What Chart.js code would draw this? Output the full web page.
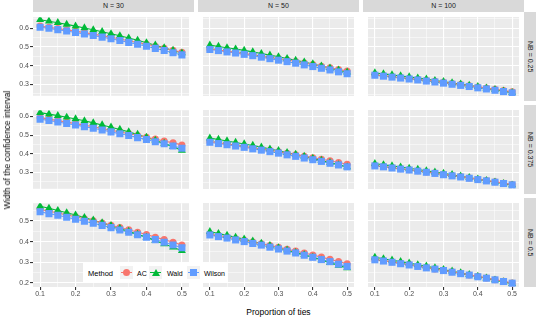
<!DOCTYPE html>
<html>
<head>
<meta charset="utf-8">
<script src="https://cdn.jsdelivr.net/npm/chart.js@4.4.0/dist/chart.umd.min.js"></script>
<style>
    body { margin: 0; background: #fff; font-family: "Liberation Sans", Arial, sans-serif; }
    #wrap { position: relative; width: 538px; height: 317px; overflow: hidden; background: #fff; }
    #wrap canvas { position: absolute; }
    .strip { position: absolute; background: #d9d9d9; color: #1a1a1a; font-size: 7px;
             display: flex; align-items: center; justify-content: center; white-space: nowrap; }
    .strip.side span { writing-mode: vertical-rl; }
    .title { position: absolute; color: #000; font-size: 8.5px; white-space: nowrap; }
    .leg { position: absolute; font-size: 7px; color: #000; white-space: nowrap; }
</style>
</head>
<body>
<div id="wrap"></div>
<script>
// ---- data ----
const ties = [0.1, 0.125, 0.15, 0.175, 0.2, 0.225, 0.25, 0.275, 0.3, 0.325, 0.35, 0.375, 0.4, 0.425, 0.45, 0.475, 0.5];
const nLabels  = ['N = 30', 'N = 50', 'N = 100'];
const nbLabels = ['NB = 0.25', 'NB = 0.375', 'NB = 0.5'];
const methods  = ['AC', 'Wald', 'Wilson'];
const xTickLabels    = [0.1, 0.2, 0.3, 0.4, 0.5];
const yTickLabelsTop = [0.3, 0.4, 0.5, 0.6];
const yTickLabelsLow = [0.2, 0.3, 0.4, 0.5];

// NB = 0.25
const ac_nb025_n30     = [.612,.606,.599,.592,.585,.577,.569,.561,.552,.543,.534,.524,.515,.504,.494,.483,.472];
const wald_nb025_n30   = [.646,.638,.630,.621,.612,.602,.592,.582,.571,.560,.548,.536,.523,.510,.496,.482,.468];
const wilson_nb025_n30 = [.606,.600,.593,.586,.578,.570,.562,.553,.544,.535,.525,.515,.504,.493,.482,.470,.458];
const ac_nb025_n50     = [.490,.484,.478,.472,.466,.459,.452,.445,.438,.431,.423,.415,.407,.398,.390,.381,.372];
const wald_nb025_n50   = [.510,.503,.496,.489,.482,.474,.465,.457,.448,.439,.429,.420,.410,.399,.388,.377,.366];
const wilson_nb025_n50 = [.487,.481,.474,.468,.461,.454,.446,.438,.430,.422,.414,.405,.396,.387,.378,.368,.358];
const ac_nb025_n100     = [.352,.348,.343,.338,.333,.328,.323,.318,.312,.306,.300,.294,.288,.282,.275,.269,.262];
const wald_nb025_n100   = [.362,.357,.352,.346,.341,.335,.329,.322,.316,.309,.303,.296,.289,.281,.274,.266,.258];
const wilson_nb025_n100 = [.350,.345,.340,.335,.330,.325,.319,.314,.308,.302,.296,.290,.283,.277,.270,.263,.256];

// NB = 0.375
const ac_nb0375_n30     = [.594,.586,.578,.570,.562,.554,.545,.536,.527,.518,.508,.499,.489,.479,.469,.459,.448];
const wald_nb0375_n30   = [.621,.613,.605,.596,.587,.577,.566,.555,.543,.531,.518,.504,.489,.473,.456,.438,.418];
const wilson_nb0375_n30 = [.586,.579,.571,.563,.555,.546,.537,.528,.518,.508,.498,.487,.477,.465,.454,.442,.430];
const ac_nb0375_n50     = [.466,.460,.453,.447,.440,.433,.426,.419,.412,.404,.396,.388,.380,.371,.363,.354,.345];
const wald_nb0375_n50   = [.484,.477,.469,.461,.453,.445,.436,.426,.417,.407,.397,.387,.376,.365,.354,.342,.330];
const wilson_nb0375_n50 = [.462,.455,.449,.442,.435,.427,.420,.412,.404,.395,.387,.378,.369,.360,.350,.341,.331];
const ac_nb0375_n100     = [.338,.333,.327,.321,.316,.310,.304,.298,.291,.285,.279,.272,.265,.258,.251,.244,.237];
const wald_nb0375_n100   = [.348,.342,.336,.330,.323,.317,.310,.303,.296,.289,.281,.274,.266,.258,.250,.242,.234];
const wilson_nb0375_n100 = [.336,.331,.325,.319,.314,.308,.302,.296,.289,.283,.277,.270,.263,.256,.249,.242,.235];

// NB = 0.5
const ac_nb05_n30     = [.556,.548,.539,.530,.521,.511,.501,.491,.480,.469,.458,.446,.435,.422,.410,.397,.384];
const wald_nb05_n30   = [.572,.562,.551,.540,.529,.517,.504,.491,.478,.464,.450,.436,.421,.405,.389,.373,.356];
const wilson_nb05_n30 = [.545,.536,.528,.518,.509,.499,.489,.479,.468,.457,.446,.434,.422,.410,.397,.384,.371];
const ac_nb05_n50     = [.436,.429,.422,.414,.406,.398,.390,.381,.373,.363,.354,.345,.335,.325,.314,.304,.293];
const wald_nb05_n50   = [.448,.439,.430,.421,.412,.402,.391,.381,.370,.359,.347,.336,.324,.311,.298,.285,.272];
const wilson_nb05_n50 = [.432,.424,.417,.408,.400,.391,.383,.373,.364,.354,.345,.334,.324,.313,.303,.291,.280];
const ac_nb05_n100     = [.314,.308,.302,.295,.289,.282,.275,.268,.261,.254,.247,.239,.232,.224,.216,.208,.200];
const wald_nb05_n100   = [.324,.317,.310,.303,.296,.288,.281,.273,.265,.257,.249,.240,.232,.223,.214,.205,.196];
const wilson_nb05_n100 = [.312,.306,.300,.293,.287,.280,.273,.267,.260,.252,.245,.238,.230,.223,.215,.207,.199];

// rows = NB, cols = N, inner = AC / Wald / Wilson
const panels = [
    [[ac_nb025_n30, wald_nb025_n30, wilson_nb025_n30], [ac_nb025_n50, wald_nb025_n50, wilson_nb025_n50], [ac_nb025_n100, wald_nb025_n100, wilson_nb025_n100]],
    [[ac_nb0375_n30, wald_nb0375_n30, wilson_nb0375_n30], [ac_nb0375_n50, wald_nb0375_n50, wilson_nb0375_n50], [ac_nb0375_n100, wald_nb0375_n100, wilson_nb0375_n100]],
    [[ac_nb05_n30, wald_nb05_n30, wilson_nb05_n30], [ac_nb05_n50, wald_nb05_n50, wilson_nb05_n50], [ac_nb05_n100, wald_nb05_n100, wilson_nb05_n100]]
];
const yTickLabelsByRow = [yTickLabelsTop, yTickLabelsTop, yTickLabelsLow];
const yMinByRow = [0.2395, 0.2128, 0.1805];
const yMaxByRow = [0.6595, 0.634, 0.5864];

// ---- layout / style ----
const FONT = '"Liberation Sans", Arial, sans-serif';
const colors = ['#F8766D', '#00BA38', '#619CFF'];
const shapes = ['circle', 'triangle', 'rect'];
const radii  = [3.5, 4.6, 5];
const colLeft = [33, 198, 363], panelW = 161;
const rowTop  = [12, 105, 198], panelH = 89;
const xAxisH = 12;

const wrap = document.getElementById('wrap');

const panelBg = {
    id: 'panelBg',
    beforeDraw(chart) {
        const { ctx, chartArea: a } = chart;
        ctx.save();
        ctx.fillStyle = '#ebebeb';
        ctx.fillRect(a.left, a.top, a.right - a.left, a.bottom - a.top);
        ctx.restore();
    }
};

// major ticks get labels, minor ticks (halfway) just a thin grid line
const halfway = (list) => list.slice(1).map((v, i) => +((v + list[i]) / 2).toFixed(3));
const withMinors = (majors, extra) => majors.concat(halfway(majors), extra).sort((a, b) => a - b);
const isMajor = (list, v) => list.some(m => Math.abs(m - v) < 1e-9);

function makePanel(r, c) {
    const leftCol = c === 0, bottomRow = r === 2;
    const yMajors = yTickLabelsByRow[r];
    const yMin = yMinByRow[r], yMax = yMaxByRow[r];
    const yAll = withMinors(yMajors, [yMajors[0] - 0.05, yMajors[yMajors.length - 1] + 0.05])
        .filter(v => v >= yMin && v <= yMax);
    const xAll = withMinors(xTickLabels, []);

    const yAxisW = leftCol ? colLeft[0] : 0;
    const cv = document.createElement('canvas');
    const w = yAxisW + panelW, h = panelH + (bottomRow ? xAxisH : 0);
    cv.width = w; cv.height = h;
    cv.style.width = w + 'px'; cv.style.height = h + 'px';
    cv.style.left = (leftCol ? 0 : colLeft[c]) + 'px';
    cv.style.top = rowTop[r] + 'px';
    wrap.appendChild(cv);

    const series = panels[r][c];
    const datasets = [];
    series.forEach((vals, m) => {
        const pts = ties.map((x, i) => ({ x: x, y: vals[i] }));
        datasets.push({ data: pts, borderColor: colors[m], borderWidth: 1.1, pointRadius: 0, order: 10 + m });
        datasets.push({ data: pts, showLine: false, pointStyle: shapes[m], pointRadius: radii[m],
                        backgroundColor: colors[m], borderWidth: 0, order: 3 - m });
    });

    const tickFont = { family: FONT, size: 7 };
    new Chart(cv, {
        type: 'line',
        data: { datasets },
        options: {
            responsive: false, animation: false, devicePixelRatio: 1,
            layout: { padding: 0 },
            plugins: { legend: { display: false }, tooltip: { enabled: false } },
            scales: {
                x: {
                    type: 'linear', min: 0.08, max: 0.52,
                    afterBuildTicks: s => { s.ticks = xAll.map(v => ({ value: v })); },
                    afterFit: s => { s.height = bottomRow ? xAxisH : 0; },
                    border: { display: false },
                    grid: {
                        color: '#ffffff',
                        lineWidth: ctx => isMajor(xTickLabels, ctx.tick.value) ? 1.1 : 0.5,
                        drawTicks: bottomRow, tickLength: 3,
                        tickColor: ctx => isMajor(xTickLabels, ctx.tick.value) ? '#333333' : 'rgba(0,0,0,0)'
                    },
                    ticks: {
                        display: bottomRow, autoSkip: false, maxRotation: 0, padding: 0,
                        color: '#4d4d4d', font: tickFont,
                        callback: v => isMajor(xTickLabels, v) ? String(v) : ''
                    }
                },
                y: {
                    type: 'linear', min: yMin, max: yMax,
                    afterBuildTicks: s => { s.ticks = yAll.map(v => ({ value: v })); },
                    afterFit: s => { s.width = yAxisW; },
                    border: { display: false },
                    grid: {
                        color: '#ffffff',
                        lineWidth: ctx => isMajor(yMajors, ctx.tick.value) ? 1.1 : 0.5,
                        drawTicks: leftCol, tickLength: 3,
                        tickColor: ctx => isMajor(yMajors, ctx.tick.value) ? '#333333' : 'rgba(0,0,0,0)'
                    },
                    ticks: {
                        display: leftCol, autoSkip: false, padding: 1,
                        color: '#4d4d4d', font: tickFont,
                        callback: v => isMajor(yMajors, v) ? String(v) : ''
                    }
                }
            }
        },
        plugins: [panelBg]
    });
}

for (let r = 0; r < 3; r++) {
    for (let c = 0; c < 3; c++) makePanel(r, c);
}

// strips (facet labels)
nLabels.forEach((txt, c) => {
    const d = document.createElement('div');
    d.className = 'strip';
    d.style.cssText = `left:${colLeft[c]}px;top:0px;width:${panelW}px;height:11.5px;`;
    d.textContent = txt;
    wrap.appendChild(d);
});
nbLabels.forEach((txt, r) => {
    const d = document.createElement('div');
    d.className = 'strip side';
    d.style.cssText = `left:524px;top:${rowTop[r]}px;width:12px;height:${panelH}px;`;
    d.innerHTML = `<span>${txt}</span>`;
    wrap.appendChild(d);
});

// axis titles
const xt = document.createElement('div');
xt.className = 'title';
xt.textContent = 'Proportion of ties';
xt.style.cssText = 'left:278.5px;top:312px;transform:translate(-50%,-50%);';
wrap.appendChild(xt);

const yt = document.createElement('div');
yt.className = 'title';
yt.textContent = 'Width of the confidence interval';
yt.style.cssText = 'left:7px;top:150px;transform:translate(-50%,-50%) rotate(-90deg);';
wrap.appendChild(yt);

// legend box (inside bottom-left panel)
const leg = document.createElement('div');
leg.style.cssText = 'position:absolute;left:83px;top:262px;width:145px;height:21px;background:#fff;';
wrap.appendChild(leg);
const legTitle = document.createElement('div');
legTitle.className = 'leg';
legTitle.style.cssText = 'left:5px;top:10.5px;transform:translateY(-50%);font-size:7.5px;';
legTitle.textContent = 'Method';
leg.appendChild(legTitle);

const keyX = [37, 66, 104], textX = [54, 84, 121];
methods.forEach((name, m) => {
    const key = document.createElement('div');
    key.style.cssText = `position:absolute;left:${keyX[m]}px;top:4px;width:13px;height:13px;background:#f2f2f2;`;
    const line = document.createElement('div');
    line.style.cssText = `position:absolute;left:1px;top:6px;width:11px;height:1.1px;background:${colors[m]};`;
    key.appendChild(line);
    const mk = document.createElement('div');
    if (m === 0) {
        mk.style.cssText = `position:absolute;left:3px;top:3px;width:7px;height:7px;border-radius:50%;background:${colors[m]};`;
    } else if (m === 1) {
        mk.style.cssText = `position:absolute;left:2.5px;top:2.5px;width:0;height:0;border-left:4px solid transparent;border-right:4px solid transparent;border-bottom:7px solid ${colors[m]};`;
    } else {
        mk.style.cssText = `position:absolute;left:3px;top:3px;width:7px;height:7px;background:${colors[m]};`;
    }
    key.appendChild(mk);
    leg.appendChild(key);

    const t = document.createElement('div');
    t.className = 'leg';
    t.style.cssText = `left:${textX[m]}px;top:10.5px;transform:translateY(-50%);`;
    t.textContent = name;
    leg.appendChild(t);
});
</script>
</body>
</html>
